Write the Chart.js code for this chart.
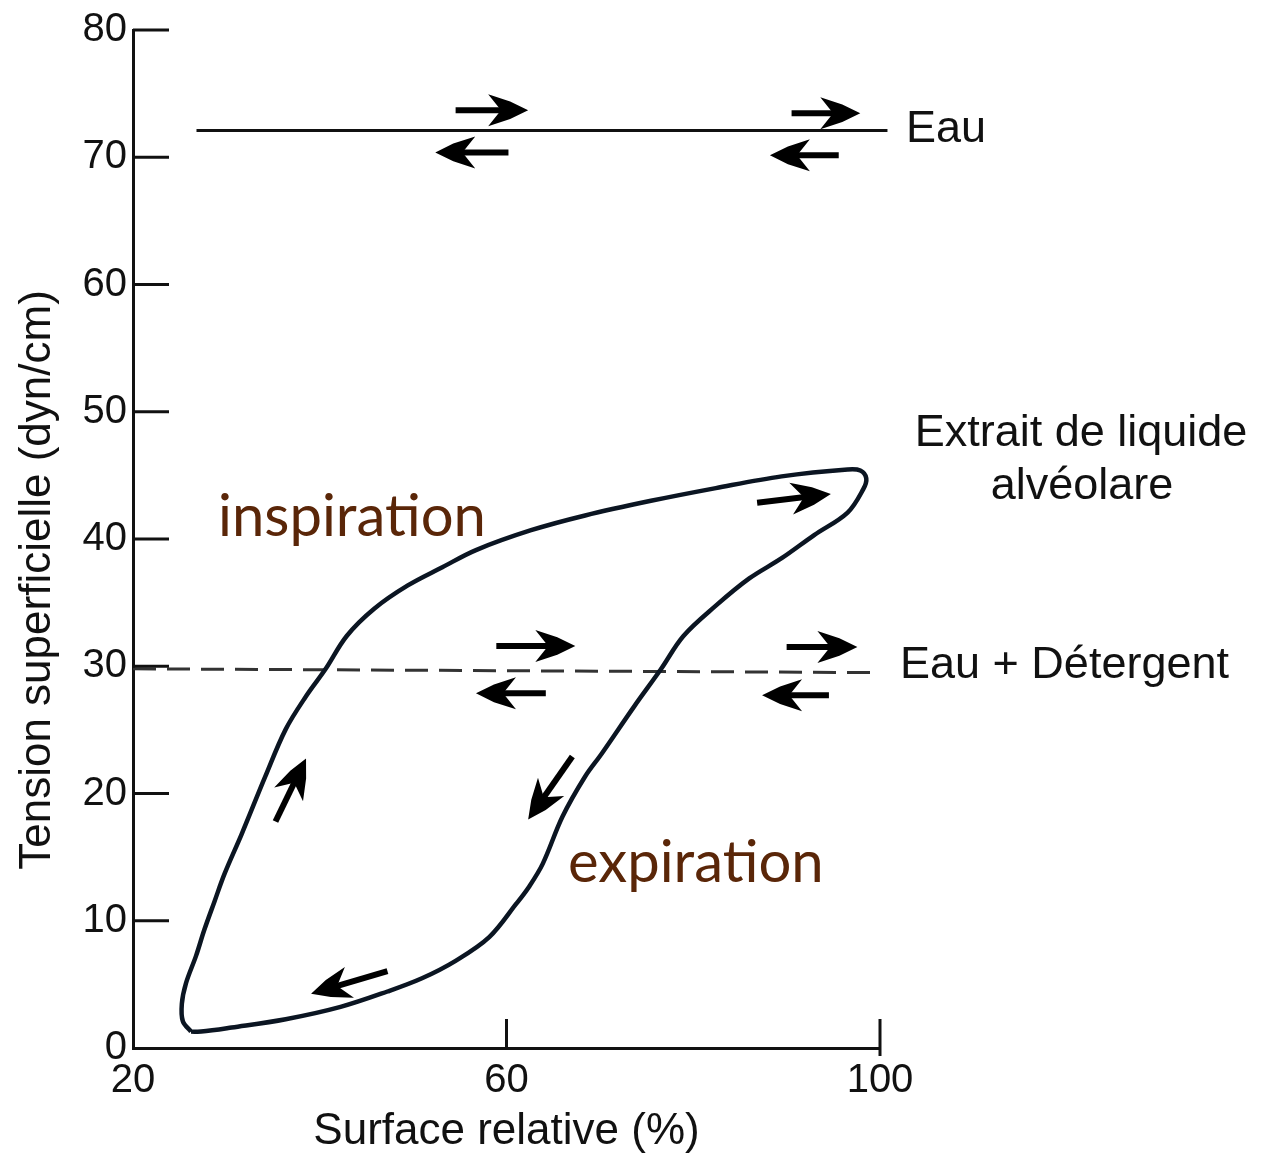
<!DOCTYPE html>
<html><head><meta charset="utf-8">
<script src="https://cdn.jsdelivr.net/npm/chart.js@4.4.1/dist/chart.umd.min.js"></script>
<style>html,body{margin:0;padding:0;background:#fff;}#wrap{width:1263px;height:1154px;}</style>
</head><body><div id="wrap"><canvas id="c" width="1263" height="1154"></canvas></div>
<script>
// ---- data ----
const loopX = [26.21,25.34,25.23,25.67,26.76,27.63,28.72,29.81,31.66,34.17,36.35,38.53,40.60,42.89,45.83,49.43,53.13,56.73,62.63,68.42,75.47,82.42,89.47,96.53,97.89,98.53,98.21,96.53,92.95,89.47,86.0,82.42,78.95,76.53,73.68,70.21,68.42,66.0,63.89,62.42,61.05,58.15,54.55,50.95,47.25,42.23,36.35,30.57,27.30,26.21];
const loopY = [1.29,2.10,3.47,5.08,7.26,9.27,11.50,13.70,16.85,21.34,25.04,27.64,29.76,32.38,34.52,36.35,37.78,39.13,40.69,41.85,43.0,44.0,44.92,45.46,45.38,44.77,43.92,42.08,40.31,38.49,36.90,34.76,32.38,29.76,26.85,23.15,21.34,18.19,14.49,12.68,11.34,8.71,6.85,5.48,4.44,3.23,2.26,1.61,1.29,1.29];
const eauX = [26.8, 100.8];
const eauY = [72.1, 72.1];
const detX = [20, 100];
const detY = [29.8, 29.5];
const xTicks = [20, 60, 100];
const yTicks = [0, 10, 20, 30, 40, 50, 60, 70, 80];
const arrowTailX = [54.55, 60.21, 90.53, 95.58, 58.91, 64.21, 90.0, 94.53, 86.84, 35.26, 67.05, 47.25];
const arrowTailY = [73.69, 70.38, 73.46, 70.15, 31.59, 27.87, 31.51, 27.72, 42.85, 17.80, 22.91, 6.05];
const arrowHeadX = [62.32, 52.37, 97.89, 88.21, 67.37, 56.73, 97.58, 87.37, 94.74, 38.53, 62.32, 39.07];
const arrowHeadY = [73.69, 70.38, 73.46, 70.15, 31.59, 27.87, 31.51, 27.72, 43.54, 22.76, 17.95, 4.27];
const xTitle = 'Surface relative (%)';
const yTitle = 'Tension superficielle (dyn/cm)';

const pts = (xs, ys) => xs.map((x, i) => ({x, y: ys[i]}));
const SANS = "'Liberation Sans', Arial, Helvetica, sans-serif";
const INK = '#111';

const decor = {
  id: 'decor',
  afterDatasetsDraw(chart) {
    const {ctx, scales: {x, y}} = chart;
    ctx.save();
    // inward tick marks
    ctx.strokeStyle = INK; ctx.lineWidth = 3; ctx.lineCap = 'butt';
    const x0 = x.getPixelForValue(x.min), y0 = y.getPixelForValue(y.min);
    yTicks.forEach(v => {
      if (v === y.min) return;
      const py = y.getPixelForValue(v);
      ctx.beginPath(); ctx.moveTo(x0, py); ctx.lineTo(x0 + 36, py); ctx.stroke();
    });
    xTicks.forEach(v => {
      if (v === x.min) return;
      const px = x.getPixelForValue(v);
      ctx.beginPath(); ctx.moveTo(px, y0 + (v === x.max ? 8 : 0)); ctx.lineTo(px, y0 - 29); ctx.stroke();
    });
    // arrows
    ctx.fillStyle = '#000'; ctx.strokeStyle = '#000';
    for (let i = 0; i < arrowTailX.length; i++) {
      const x1 = x.getPixelForValue(arrowTailX[i]), y1 = y.getPixelForValue(arrowTailY[i]);
      const x2 = x.getPixelForValue(arrowHeadX[i]), y2 = y.getPixelForValue(arrowHeadY[i]);
      const ang = Math.atan2(y2 - y1, x2 - x1);
      const hl = 40, hw = 16;
      ctx.lineWidth = 6;
      ctx.beginPath(); ctx.moveTo(x1, y1);
      ctx.lineTo(x2 - Math.cos(ang) * hl * 0.6, y2 - Math.sin(ang) * hl * 0.6); ctx.stroke();
      ctx.save(); ctx.translate(x2, y2); ctx.rotate(ang);
      ctx.beginPath(); ctx.moveTo(0, 0);
      ctx.lineTo(-hl * 0.45, -hw * 0.55);
      ctx.lineTo(-hl, -hw);
      ctx.lineTo(-hl * 0.68, 0);
      ctx.lineTo(-hl, hw);
      ctx.lineTo(-hl * 0.45, hw * 0.55);
      ctx.closePath(); ctx.fill();
      ctx.restore();
    }
    // y axis title
    ctx.fillStyle = INK;
    ctx.font = '44px ' + SANS;
    ctx.textAlign = 'center'; ctx.textBaseline = 'middle';
    ctx.save(); ctx.translate(38, 580); ctx.rotate(-Math.PI / 2);
    ctx.fillText(yTitle, 0, 0); ctx.restore();
    // annotations
    ctx.textBaseline = 'alphabetic';
    ctx.font = '45px ' + SANS;
    ctx.textAlign = 'left';
    ctx.fillText('Eau', 906, 142);
    ctx.fillText('Eau + Détergent', 900, 678);
    ctx.textAlign = 'center';
    ctx.fillText('Extrait de liquide', 1081, 446);
    ctx.fillText('alvéolare', 1082, 499);
    ctx.fillStyle = '#5a2608';
    ctx.font = '58px Lato, ' + SANS;
    ctx.textAlign = 'left';
    ctx.fillText('inspiration', 218, 536);
    ctx.fillText('expiration', 568, 882);
    ctx.restore();
  }
};

new Chart(document.getElementById('c'), {
  type: 'scatter',
  data: {
    datasets: [
      {data: pts(loopX, loopY), showLine: true, borderColor: '#0b1522', borderWidth: 4.5, pointRadius: 0, tension: 0.35, fill: false},
      {data: pts(eauX, eauY), showLine: true, borderColor: INK, borderWidth: 3, pointRadius: 0, clip: false},
      {data: pts(detX, detY), showLine: true, borderColor: '#333', borderWidth: 3, borderDash: [23, 11], pointRadius: 0}
    ]
  },
  options: {
    responsive: false, animation: false,
    layout: {padding: {left: 0, top: 30, right: 383, bottom: 0}},
    plugins: {legend: {display: false}, tooltip: {enabled: false}},
    scales: {
      x: {
        type: 'linear', min: 20, max: 100,
        afterBuildTicks: s => { s.ticks = xTicks.map(v => ({value: v})); },
        afterFit: s => { s.height = 106; },
        grid: {display: false, drawTicks: false},
        border: {display: true, color: INK, width: 3},
        ticks: {padding: 9, color: INK, font: {family: SANS, size: 40}},
        title: {display: true, text: xTitle, color: INK, padding: 0, font: {family: SANS, size: 44, lineHeight: 1}}
      },
      y: {
        type: 'linear', min: 0, max: 80,
        afterBuildTicks: s => { s.ticks = yTicks.map(v => ({value: v})); },
        afterFit: s => { s.width = 133; },
        grid: {display: false, drawTicks: false},
        border: {display: true, color: INK, width: 3},
        ticks: {padding: 6, color: INK, font: {family: SANS, size: 40}}
      }
    }
  },
  plugins: [decor]
});
</script></body></html>
